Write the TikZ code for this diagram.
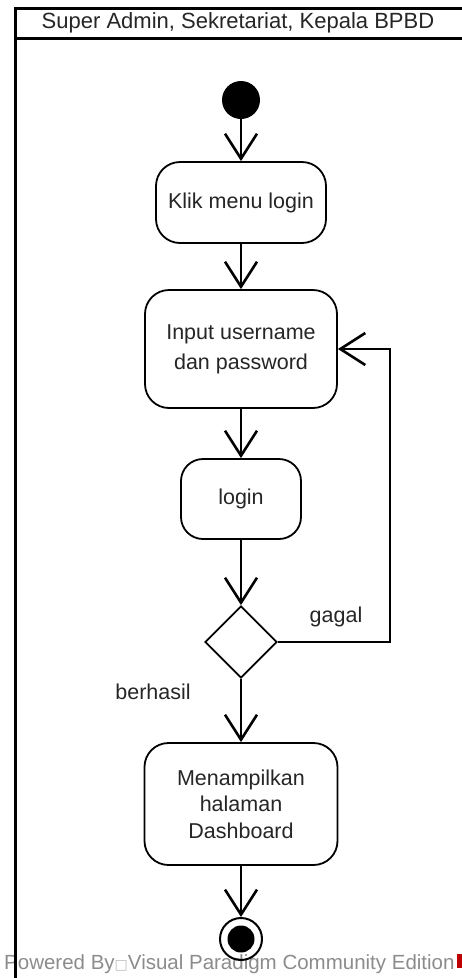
\documentclass[tikz,border=0pt]{standalone}
\usepackage{fontspec}
\setmainfont{Liberation Sans}
\newfontfamily\dejavu{DejaVu Sans}
\usetikzlibrary{shapes.geometric,arrows.meta}
\begin{document}
\begin{tikzpicture}[x=1pt,y=-1pt,
  actbox/.style={draw,line width=1.8pt,rounded corners=24pt,align=center,inner sep=0pt,
    font=\fontsize{21.5}{27}\selectfont,text=black!85},
  decision/.style={draw,diamond,line width=1.8pt,minimum width=72pt,minimum height=72pt,inner sep=0pt,aspect=1},
  conn/.style={line width=2.6pt,-{Straight Barb[length=25pt,width=32pt]}},
  frameline/.style={line width=3pt},
  lbl/.style={font=\fontsize{21.5}{25}\selectfont,text=black!85,inner sep=0pt},
]
\useasboundingbox (0,0) rectangle (462,978);
\fill[white] (0,0) rectangle (462,978);

% footer text (under the frame line)
\node[anchor=base west,inner sep=0pt,text=black!45,font=\fontsize{20.5}{24}\selectfont] (powered) at (4,969)
  {Powered By{\dejavu\fontsize{14}{14}\selectfont\color{black!25}□}Visual Paradigm Community Edition};
\fill[red!75!black] (457,954) rectangle (466,968);

% frame
\draw[frameline] (462,8) -- (15,8) -- (15,980);
\draw[frameline] (15,38) -- (462,38);
\node[lbl,font=\fontsize{22}{25}\selectfont] (title) at (238,23) {Super Admin, Sekretariat, Kepala BPBD};

% nodes
\node[circle,fill=black,minimum size=38pt,inner sep=0pt] (startn) at (241,100) {};
\node[actbox,minimum width=170pt,minimum height=81pt] (klik) at (241,202.5) {Klik menu login};
\node[actbox,minimum width=192pt,minimum height=118pt,font=\fontsize{21.5}{30}\selectfont] (input) at (241,349) {Input username\\dan password};
\node[actbox,minimum width=120pt,minimum height=80pt,rounded corners=22pt] (login) at (241,499) {login};
\node[decision] (dec) at (241,642) {};
\node[actbox,minimum width=193pt,minimum height=122pt,font=\fontsize{21.5}{26.5}\selectfont] (show) at (241,804) {Menampilkan\\halaman\\Dashboard};
\node[circle,draw,line width=2pt,minimum size=42pt,inner sep=0pt] (endn) at (241,939) {};
\fill (endn.center) circle (13.5pt);

\coordinate (back) at (390,349);

% connectors
\draw[conn] (startn) -- (klik);
\draw[conn] (klik) -- (input);
\draw[conn] (input) -- (login);
\draw[conn] (login) -- (dec);
\draw[conn] (dec) -- (show);
\draw[conn] (show) -- (endn);
\draw[conn] (dec.east) -| (back) -- (input.east);

% labels
\node[lbl] (gagal) at (336,617) {gagal};
\node[lbl] (berhasil) at (153,692) {berhasil};
\end{tikzpicture}
\end{document}
